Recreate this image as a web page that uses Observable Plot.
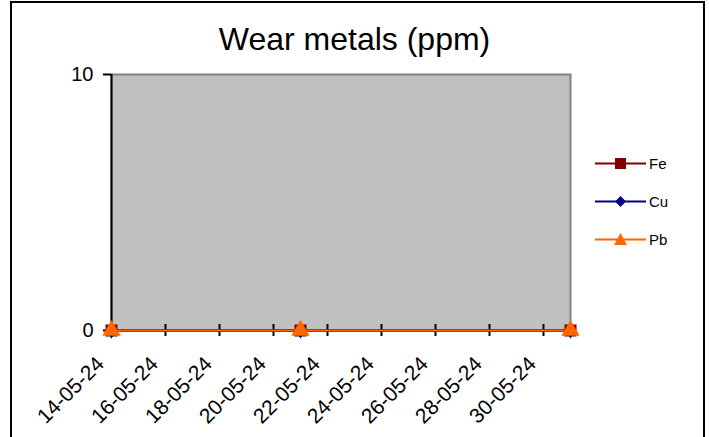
<!DOCTYPE html>
<html>
<head>
<meta charset="utf-8">
<script src="https://cdn.jsdelivr.net/npm/d3@7"></script>
<script src="https://cdn.jsdelivr.net/npm/@observablehq/plot@0.6"></script>
<style>
  html, body { margin: 0; padding: 0; background: #fff; }
  #wrap { position: relative; width: 709px; height: 437px; overflow: hidden; font-family: "Liberation Sans", Arial, sans-serif; }
  #border { position: absolute; left: 10px; top: 1px; width: 691px; height: 600px; border: 2px solid #000; box-sizing: content-box; }
  #title { position: absolute; left: 0; top: 21px; width: 709px; text-align: center; font-size: 32px; line-height: 36px; color: #000; }
  #legend { position: absolute; left: 595px; top: 152px; font-size: 15px; color: #000; }
  .lg { display: flex; align-items: center; height: 22px; margin-bottom: 16px; }
  .lg span { margin-left: 3px; }
  #chart { position: absolute; left: 0; top: 0; }
</style>
</head>
<body>
<div id="wrap">
  <div id="border"></div>
  <div id="chart"></div>
  <div id="title">Wear metals (ppm)</div>
  <div id="legend"></div>
</div>
<script>
const titleText = "Wear metals (ppm)";
const dates = ["2024-05-14", "2024-05-21", "2024-05-31"];
const fe = [0, 0, 0];
const cu = [0, 0, 0];
const pb = [0, 0, 0];
const seriesNames = ["Fe", "Cu", "Pb"];
const seriesColors = ["#800000", "#000080", "#FF6600"];
const seriesSymbols = ["square", "diamond", "triangle"];
const xTickLabels = ["14-05-24", "16-05-24", "18-05-24", "20-05-24", "22-05-24", "24-05-24", "26-05-24", "28-05-24", "30-05-24"];
const yTicks = [0, 10];
const xDomain = ["2024-05-14", "2024-05-31"];

const parseD = d3.utcParse("%Y-%m-%d");
const parseL = d3.utcParse("%d-%m-%y");
const fmt = d3.utcFormat("%d-%m-%y");
const xTicks = xTickLabels.map(parseL);
const values = [fe, cu, pb];
const rows = [];
seriesNames.forEach((s, i) => {
  dates.forEach((d, j) => rows.push({series: s, date: parseD(d), value: values[i][j], k: i}));
});

const marks = [
  Plot.frame({fill: "#C0C0C0", stroke: "#808080", strokeWidth: 2}),
  Plot.axisY({ticks: yTicks, tickSize: 8, tickPadding: 10, fontSize: 20, stroke: "#000", strokeWidth: 2, color: "#000"}),
  Plot.ruleX([0], {x: () => parseD(xDomain[0]), stroke: "#000", strokeWidth: 2}),
  Plot.ruleY([0], {stroke: "#000", strokeWidth: 2}),
  Plot.axisX({ticks: xTicks, tickSize: 12, dy: -6, tickFormat: () => "", stroke: "#000", strokeWidth: 2}),
  Plot.axisX({ticks: xTicks, tickSize: 0, tickPadding: 30, dx: -11, tickRotate: -45, tickFormat: fmt, fontSize: 21, color: "#000"})
];
seriesNames.forEach((s, i) => {
  const sub = rows.filter(r => r.series === s);
  marks.push(Plot.line(sub, {x: "date", y: "value", stroke: seriesColors[i], strokeWidth: 2}));
});
seriesNames.forEach((s, i) => {
  const sub = rows.filter(r => r.series === s);
  marks.push(Plot.dot(sub, {x: "date", y: "value", symbol: seriesSymbols[i], fill: seriesColors[i], stroke: "none", r: i === 1 ? 5 : 6.8}));
});

const chart = Plot.plot({
  width: 709,
  height: 437,
  marginLeft: 111,
  marginRight: 139,
  marginTop: 74,
  marginBottom: 107,
  style: {background: "transparent", fontFamily: "Liberation Sans, Arial, sans-serif", color: "#000", overflow: "visible"},
  x: {type: "utc", domain: xDomain.map(parseD), label: null},
  y: {domain: [0, 10], label: null},
  marks
});
document.getElementById("chart").appendChild(chart);

const legend = document.getElementById("legend");
const sym = {
  square: (c) => `<rect x="20" y="5" width="11" height="11" fill="${c}"/>`,
  diamond: (c) => `<path d="M25.5,5 L31,10.5 L25.5,16 L20,10.5Z" fill="${c}"/>`,
  triangle: (c) => `<path d="M25.5,4 L32,16 L19,16Z" fill="${c}"/>`
};
seriesNames.forEach((s, i) => {
  const row = document.createElement("div");
  row.className = "lg";
  row.innerHTML = `<svg width="51" height="21"><line x1="0" x2="51" y1="10.5" y2="10.5" stroke="${seriesColors[i]}" stroke-width="2"/>${sym[seriesSymbols[i]](seriesColors[i])}</svg><span>${s}</span>`;
  legend.appendChild(row);
});
</script>
</body>
</html>
